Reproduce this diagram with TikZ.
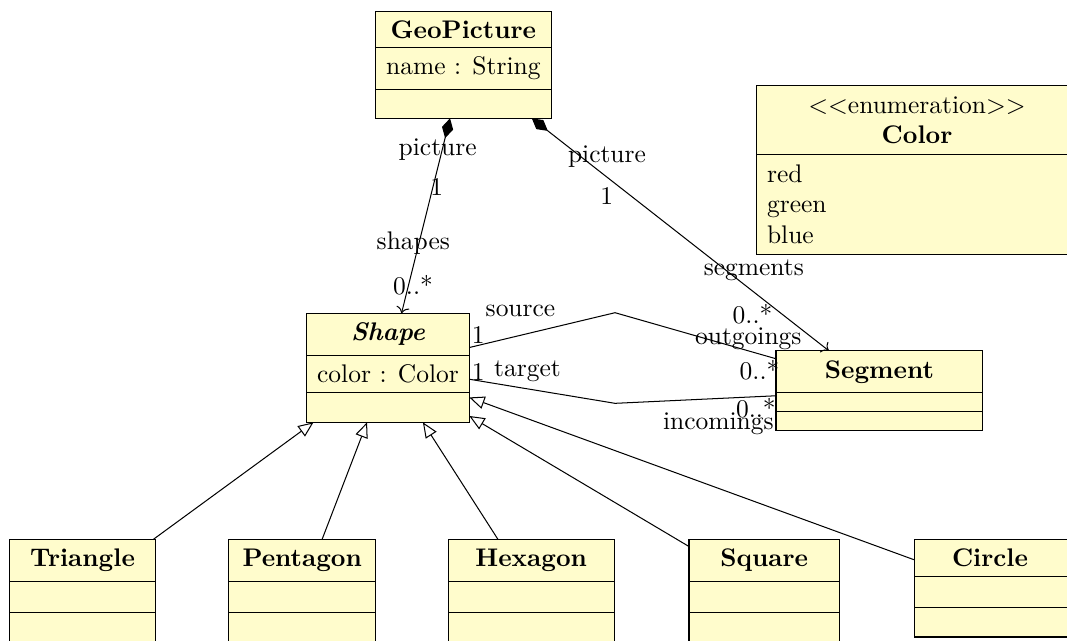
\documentclass[tikz,border=0pt]{standalone}
\usetikzlibrary{arrows.meta}

\begin{document}
\begin{tikzpicture}[
	umlbox/.style={draw, fill=yellow!20, anchor=north west, inner sep=0pt, outer sep=0pt},
	compo/.style={arrows={Diamond[length=8pt,width=4.5pt]-To}},
	inherit/.style={arrows={-Triangle[open,length=6pt,width=5pt]}}]
		\useasboundingbox (0,0) rectangle (14.717,-8.841);
		\clip (0,0) rectangle (14.717,-8.841);
%		\draw[help lines] (0,-9) grid (15,0);

		% GeoPicture
		\node (geopicture) [umlbox, minimum width=2.418cm, minimum height=1.480cm] at (5.182,-0.152) {};
		\node (geo_title) at (6.391,-0.405) {\textbf{GeoPicture}};
		\node (geo_attr) at (6.391,-0.945) {name : String};
		\draw (5.182,-0.658) -- (7.600,-0.658);
		\draw (5.182,-1.232) -- (7.600,-1.232);

		% Shape
		\node (shape) [umlbox, minimum width=2.243cm, minimum height=1.504cm] at (4.230,-4.321) {};
		\node (shape_title) at (5.352,-4.611) {\textbf{\textit{Shape}}};
		\node (shape_attr) at (5.352,-5.156) {color : Color};
		\draw (4.230,-4.901) -- (6.473,-4.901);
		\draw (4.230,-5.411) -- (6.473,-5.411);

		% Segment
		\node (segment) [umlbox, minimum width=2.851cm, minimum height=1.094cm] at (10.703,-4.837) {};
		\node (segment_title) at (12.129,-5.127) {\textbf{Segment}};
		\draw (10.703,-5.417) -- (13.554,-5.417);
		\draw (10.703,-5.674) -- (13.554,-5.674);

		% Color
		\node (color) [umlbox, minimum width=4.422cm, minimum height=2.331cm] at (10.437,-1.186) {};
		\node (color_title) [align=center] at (12.648,-1.657) {$<<$enumeration$>>$\\\textbf{Color}};
		\node (color_items) [align=left, anchor=north west, inner sep=3.85pt] at (10.437,-2.128) {red\\green\\blue};
		\draw (10.437,-2.128) -- (14.859,-2.128);

		% subclasses
		\node (triangle) [umlbox, minimum width=2.020cm, minimum height=1.429cm] at (0.128,-7.439) {};
		\node (triangle_title) at (1.138,-7.731) {\textbf{Triangle}};
		\draw (0.128,-8.023) -- (2.148,-8.023);
		\draw (0.128,-8.445) -- (2.148,-8.445);

		\node (pentagon) [umlbox, minimum width=2.028cm, minimum height=1.429cm] at (3.154,-7.439) {};
		\node (pentagon_title) at (4.168,-7.731) {\textbf{Pentagon}};
		\draw (3.154,-8.023) -- (5.182,-8.023);
		\draw (3.154,-8.445) -- (5.182,-8.445);

		\node (hexagon) [umlbox, minimum width=2.286cm, minimum height=1.429cm] at (6.183,-7.439) {};
		\node (hexagon_title) at (7.326,-7.731) {\textbf{Hexagon}};
		\draw (6.183,-8.023) -- (8.469,-8.023);
		\draw (6.183,-8.445) -- (8.469,-8.445);

		\node (square) [umlbox, minimum width=2.074cm, minimum height=1.429cm] at (9.503,-7.439) {};
		\node (square_title) at (10.540,-7.731) {\textbf{Square}};
		\draw (9.503,-8.023) -- (11.577,-8.023);
		\draw (9.503,-8.445) -- (11.577,-8.445);

		\node (circle) [umlbox, minimum width=2.153cm, minimum height=1.347cm] at (12.607,-7.439) {};
		\node (circle_title) at (13.655,-7.697) {\textbf{Circle}};
		\draw (12.607,-7.955) -- (14.760,-7.955);
		\draw (12.607,-8.377) -- (14.760,-8.377);

		% compositions
		\draw[compo] (geopicture) -- (shape);
		\draw[compo] (geopicture) -- (segment);
		\node (pic_shp) at (6.037,-2.062) {picture};
		\node (one_shp) at (6.023,-2.583) {1};
		\node (shapes) at (5.701,-3.348) {shapes};
		\node (many_shp) at (5.697,-3.931) {0..*};
		\node (pic_seg) at (8.372,-2.165) {picture};
		\node (one_seg) at (8.368,-2.703) {1};
		\node (segments) at (10.397,-3.734) {segments};
		\node (many_seg) at (10.379,-4.330) {0..*};

		% associations
		\coordinate (srcbend) at (8.483,-4.313);
		\coordinate (tgtbend) at (8.483,-5.563);
		\draw (shape.14.35) -- (srcbend) -- (segment.163.1);
		\draw (shape.-8.5) -- (tgtbend) -- (segment.183.1);
		\node (source) at (7.179,-4.286) {source};
		\node (one_src) at (6.597,-4.621) {1};
		\node (outgoings) at (10.321,-4.666) {outgoings};
		\node (many_src) at (10.476,-5.103) {0..*};
		\node (one_tgt) at (6.597,-5.127) {1};
		\node (target) at (7.276,-5.127) {target};
		\node (many_tgt) at (10.425,-5.628) {0..*};
		\node (incomings) at (9.908,-5.839) {incomings};

		% inheritance
		\draw[inherit] (triangle) -- (shape);
		\draw[inherit] (pentagon) -- (shape);
		\draw[inherit] (hexagon) -- (shape);
		\draw[inherit] (square) -- (shape);
		\draw[inherit] (circle) -- (shape);
\end{tikzpicture}
\end{document}
